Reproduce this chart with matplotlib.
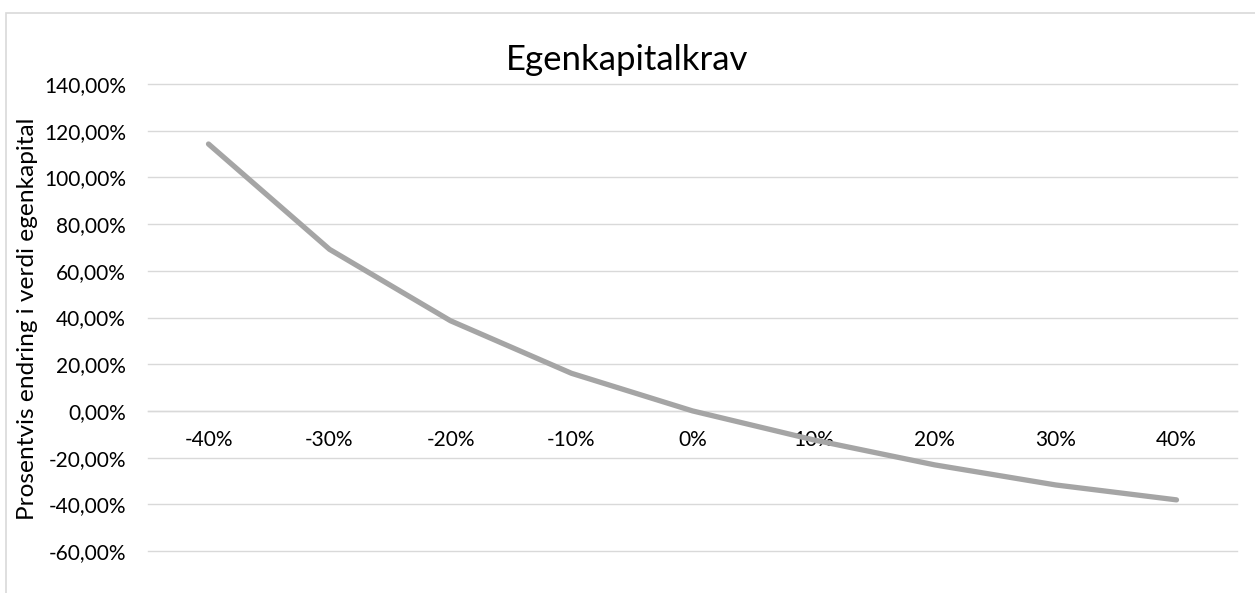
import matplotlib
matplotlib.use("Agg")
import matplotlib.pyplot as plt
from matplotlib.patches import Rectangle
from matplotlib.ticker import FuncFormatter, MultipleLocator

# --- data ---
scenarios = ["-40%", "-30%", "-20%", "-10%", "0%", "10%", "20%", "30%", "40%"]
endring = [114.3, 69.2, 38.6, 16.1, 0.0, -12.4, -23.1, -31.7, -38.1]

plt.rcParams["font.family"] = ["Lato", "DejaVu Sans"]

fig = plt.figure(figsize=(12.55, 5.93), dpi=100)
ax = fig.add_axes([148 / 1255, 1 - 551 / 593, (1237 - 148) / 1255, (551 - 84) / 593])

# chart frame like Excel's chart area
fig.patches.append(Rectangle((6 / 1255, -0.1), 1.2, 1 - 13 / 593 + 0.1,
                             transform=fig.transFigure, fill=False,
                             edgecolor="#d9d9d9", linewidth=1.2))

x = range(len(scenarios))
ax.plot(x, endring, color="#a5a5a5", linewidth=3.8, solid_capstyle="round",
        solid_joinstyle="round", zorder=3)

ax.set_xlim(-0.5, len(scenarios) - 0.5)
ax.set_ylim(-60, 140)
ax.yaxis.set_major_locator(MultipleLocator(20))
ax.yaxis.set_major_formatter(FuncFormatter(lambda v, p: f"{v:.2f}".replace(".", ",") + "%"))
ax.grid(axis="y", color="#d9d9d9", linewidth=1.0)
ax.set_axisbelow(True)
for gl in ax.get_ygridlines():
    gl.set_clip_on(False)

for s in ["top", "right", "left"]:
    ax.spines[s].set_visible(False)
ax.spines["bottom"].set_position(("data", 0))
ax.spines["bottom"].set_color("#d9d9d9")
ax.spines["bottom"].set_linewidth(1.0)

ax.set_xticks(list(x))
ax.set_xticklabels(scenarios)
ax.tick_params(axis="x", length=0, pad=14, labelsize=15, colors="#000000")
ax.tick_params(axis="y", length=0, pad=16, labelsize=15, colors="#000000")

ax.set_ylabel("Prosentvis endring i verdi egenkapital", fontsize=17.6)
ax.yaxis.set_label_coords(-0.101, 0.497)
fig.text(0.5, 1 - 60 / 593, "Egenkapitalkrav", ha="center", va="center", fontsize=25)

fig.savefig("out.png", dpi=100, facecolor="white")
